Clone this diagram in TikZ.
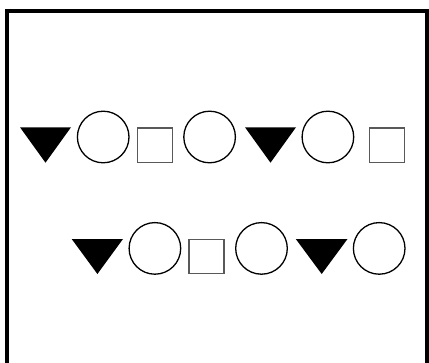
\documentclass[tikz,border=0pt]{standalone}
\begin{document}
\begin{tikzpicture}[x=1pt,y=-1pt,
  ring/.style={draw=black,line width=1.3pt,fill=white},
  boxy/.style={draw=black!65,line width=1.3pt,fill=white},
  tri/.style={fill=black,draw=none}]
\useasboundingbox (0,0) rectangle (429,362);
\fill[white] (0,0) rectangle (429,362);
\draw[line width=3.7pt] (7,380) -- (7,10.8) -- (426.7,10.8) -- (426.7,380);
% row 1
\fill[tri] (20,127.3) -- (71,127.3) -- (45.5,162.7) -- cycle;
\draw[ring] (103.2,137) circle (25.8);
\draw[boxy] (137.5,128) rectangle (172.2,162.5);
\draw[ring] (209.6,137) circle (25.8);
\fill[tri] (245,127.3) -- (296,127.3) -- (270.5,162.7) -- cycle;
\draw[ring] (327.9,137) circle (25.8);
\draw[boxy] (369.5,128) rectangle (404.5,162.5);
% row 2
\fill[tri] (71.7,239) -- (123,239) -- (97.4,274) -- cycle;
\draw[ring] (154.9,248.4) circle (25.8);
\draw[boxy] (189,239.3) rectangle (224,273.8);
\draw[ring] (261.5,248.4) circle (25.8);
\fill[tri] (295.8,239) -- (347.5,239) -- (321.7,274) -- cycle;
\draw[ring] (379.2,248.4) circle (25.8);
\end{tikzpicture}
\end{document}
